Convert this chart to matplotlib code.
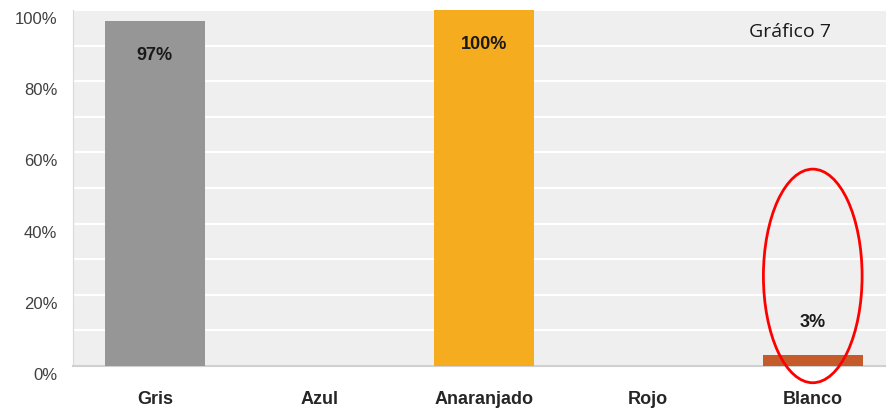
import matplotlib
matplotlib.use("Agg")
import matplotlib.pyplot as plt
from matplotlib.patches import Ellipse
from matplotlib.transforms import ScaledTranslation
import numpy as np

categories = ["Gris", "Azul", "Anaranjado", "Rojo", "Blanco"]
values = [97, 0, 100, 0, 3]
labels = ["97%", "", "100%", "", "3%"]
colors = ["#969696", "#4472c4", "#f6ac1f", "#c00000", "#c55a2b"]
yticks = [0, 20, 40, 60, 80, 100]
title = "Gráfico 7"

plt.rcParams['font.family'] = ['Liberation Sans', 'DejaVu Sans']

fig = plt.figure(figsize=(8.86, 4.10), dpi=100)
ax = fig.add_axes([72.5/886, 1-367/410, 822.5/886, (367-11)/410])
ax.set_facecolor("#efefef")

x = np.arange(len(categories))
bars = ax.bar(x, values, width=0.61, color=colors, zorder=3)

ax.set_xlim(-0.5, 4.5)
ax.set_ylim(0, 100)
ax.set_yticks(yticks)
ax.set_yticklabels([f"{v}%" for v in yticks], color="#404040", fontsize=12)
ax.set_yticks(np.arange(0, 101, 10), minor=True)
ax.grid(axis="y", which="both", color="white", lw=1.6, zorder=1)
ax.tick_params(axis="y", which="both", length=0, pad=11)
shift = ScaledTranslation(0, -7/100, fig.dpi_scale_trans)
for lab in ax.get_yticklabels():
    lab.set_transform(lab.get_transform() + shift)
ax.set_xticks(x)
ax.set_xticklabels(categories, fontweight="bold", fontsize=13, color="#262626")
ax.tick_params(axis="x", length=0, pad=17)

for s in ["top", "right"]:
    ax.spines[s].set_visible(False)
ax.spines["left"].set_color("#d9d9d9")
ax.spines["bottom"].set_color("#d0d0d0")
ax.spines["bottom"].set_linewidth(1.5)

for xi, v, lab in zip(x, values, labels):
    if not lab:
        continue
    off = -24 if v > 50 else 24
    ax.annotate(lab, (xi, v), xytext=(0, off), textcoords="offset points",
                ha="center", va="center", fontweight="bold", fontsize=13,
                color="#1a1a1a", zorder=4)

ell = Ellipse((4, 25.3), width=0.6, height=60, fill=False, edgecolor="red",
              lw=2, zorder=5, clip_on=False)
ax.add_patch(ell)

fig.text(790/886, 1-32/410, title, ha="center", va="center",
         fontsize=14, family=["Open Sans", "DejaVu Sans"], color="#1a1a1a", zorder=6)

fig.savefig("out.png", dpi=100, facecolor="white")
